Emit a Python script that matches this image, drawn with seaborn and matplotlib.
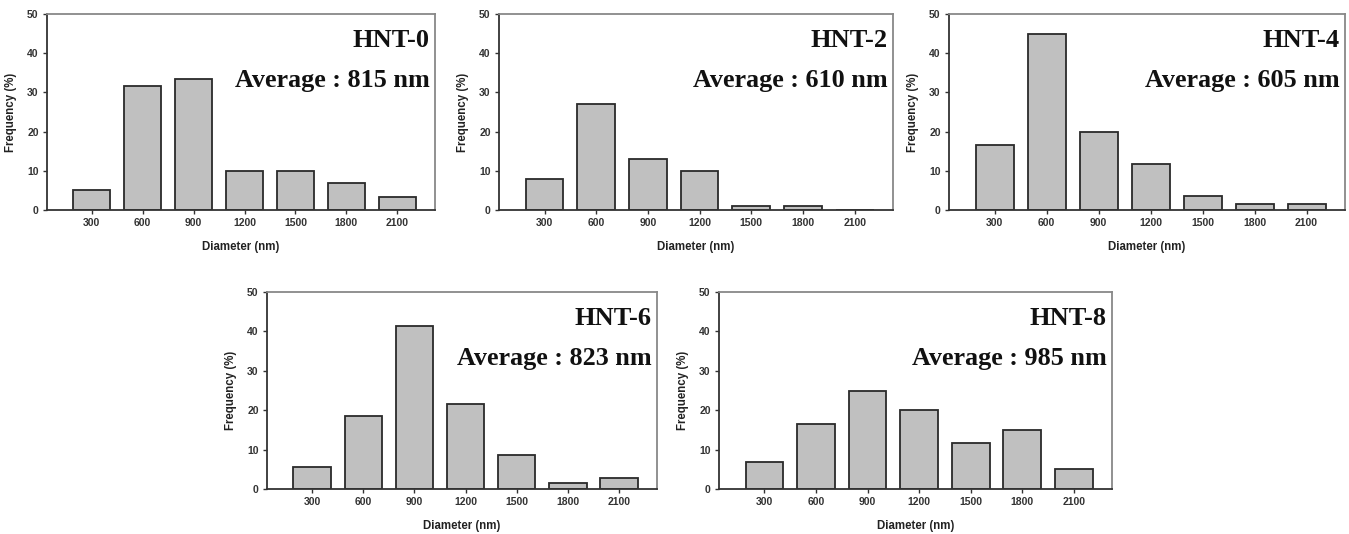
import pandas as pd
import matplotlib.pyplot as plt
import seaborn as sns

# particle size distributions of HNT samples
diameters = ['300', '600', '900', '1200', '1500', '1800', '2100']

samples = ['HNT-0', 'HNT-2', 'HNT-4', 'HNT-6', 'HNT-8']
averages = [815, 610, 605, 823, 985]

freq_hnt0 = [5.0, 31.6, 33.5, 10.0, 10.0, 6.8, 3.4]
freq_hnt2 = [8.0, 27.0, 13.0, 10.0, 0.9, 0.9, 0.0]
freq_hnt4 = [16.7, 45.0, 20.0, 11.8, 3.5, 1.6, 1.6]
freq_hnt6 = [5.7, 18.6, 41.4, 21.5, 8.6, 1.5, 2.9]
freq_hnt8 = [6.8, 16.6, 25.0, 20.0, 11.7, 15.0, 5.2]

freqs = [freq_hnt0, freq_hnt2, freq_hnt4, freq_hnt6, freq_hnt8]

sns.set_theme(style='white')
plt.rcParams['font.family'] = ['Liberation Sans', 'DejaVu Sans']

W, H = 1349, 534
fig = plt.figure(figsize=(W / 100, H / 100), dpi=100)

# axes boxes in pixels: left, top, right, bottom
boxes = [
    (47, 14, 435, 210),
    (499, 14, 893, 210),
    (949, 14, 1345, 210),
    (267, 292, 657, 489),
    (719, 292, 1112, 489),
]

for name, avg, vals, (l, t, r, b) in zip(samples, averages, freqs, boxes):
    ax = fig.add_axes([l / W, 1 - b / H, (r - l) / W, (b - t) / H])
    df = pd.DataFrame({'Diameter': diameters, 'Frequency': vals})
    sns.barplot(x='Diameter', y='Frequency', data=df, order=diameters,
                color='#c0c0c0', saturation=1, width=0.73,
                edgecolor='#2a2a2a', linewidth=1.3, ax=ax)
    ax.set_xlim(-0.88, 6.74)
    ax.set_ylim(0, 50)
    ax.set_yticks([0, 10, 20, 30, 40, 50])
    ax.tick_params(axis='both', direction='out', length=3, width=1,
                   color='#333333', labelsize=7.5, pad=3,
                   bottom=True, left=True)
    for lab in ax.get_xticklabels() + ax.get_yticklabels():
        lab.set_fontweight('semibold')
        lab.set_color('#333333')
    ax.set_xlabel('Diameter (nm)', fontsize=8.3, fontweight='bold', color='#222222', labelpad=9)
    ax.set_ylabel('Frequency (%)', fontsize=8.3, fontweight='bold', color='#222222', labelpad=7)
    for side in ['left', 'bottom']:
        ax.spines[side].set_color('#333333')
        ax.spines[side].set_linewidth(1.3)
    for side in ['top', 'right']:
        ax.spines[side].set_color('#888888')
        ax.spines[side].set_linewidth(1.3)

    ax.text(0.987, 0.83, name, transform=ax.transAxes, ha='right', va='baseline',
            fontsize=19, fontweight='bold', family='Liberation Serif', color='#111111')
    ax.text(0.987, 0.63, f'Average : {avg} nm', transform=ax.transAxes, ha='right',
            va='baseline', fontsize=18.8, fontweight='bold', family='Liberation Serif',
            color='#111111')

fig.savefig('out.png', dpi=100, facecolor='white')
